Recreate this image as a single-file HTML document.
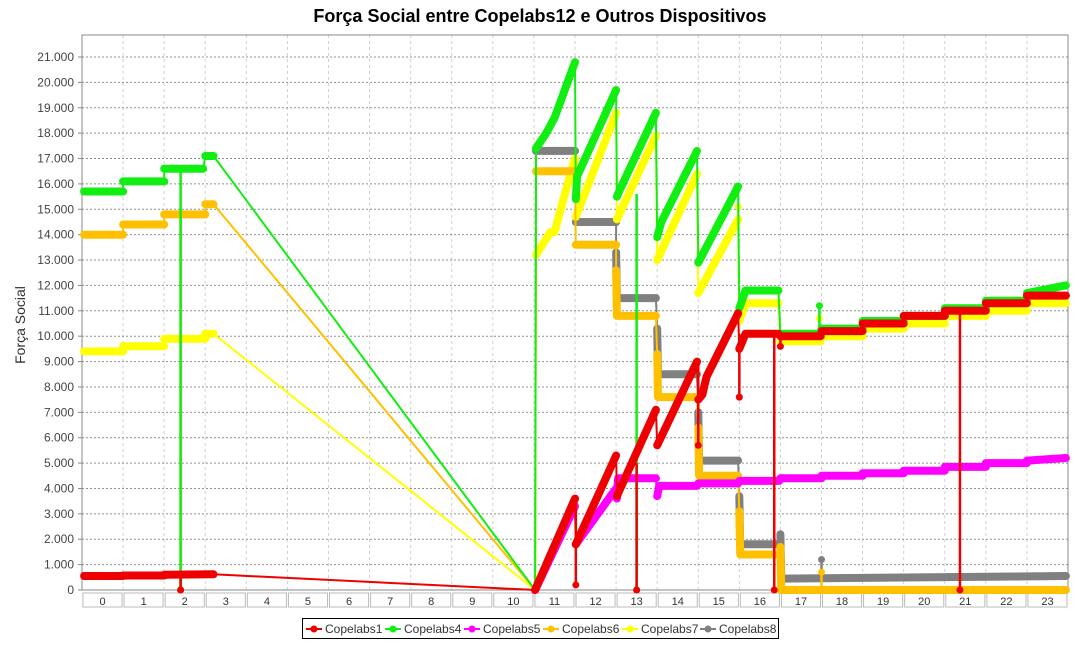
<!DOCTYPE html>
<html><head><meta charset="utf-8">
<style>
html,body{margin:0;padding:0;background:#fff;}
body{width:1080px;height:640px;overflow:hidden;font-family:"Liberation Sans",sans-serif;}
</style></head>
<body>
<svg id="chart" width="1080" height="640" xmlns="http://www.w3.org/2000/svg" style="font-family:'Liberation Sans',sans-serif">
<text x="540" y="22" text-anchor="middle" font-size="18" font-weight="bold" fill="#000">Força Social entre Copelabs12 e Outros Dispositivos</text>
<g id="grid"></g>
<g id="axes"></g>
<g id="series"></g>
<g id="legend"></g>
</svg>
<script>
// ---- data ----
const hours = ["0","1","2","3","4","5","6","7","8","9","10","11","12","13","14","15","16","17","18","19","20","21","22","23"];
const yTicks = [0,1000,2000,3000,4000,5000,6000,7000,8000,9000,10000,11000,12000,13000,14000,15000,16000,17000,18000,19000,20000,21000];
const seriesNames = ["Copelabs1","Copelabs4","Copelabs5","Copelabs6","Copelabs7","Copelabs8"];
const seriesColors = ["#ee0000","#11ee11","#ff00ff","#ffc000","#ffff00","#808080"];
// runs: [hour, value(thousands)] ; spikes: [hour, from, to]
const c1Runs = [[[0.05,0.55],[1,0.55]],[[1,0.57],[2,0.57]],[[2,0.6],[3.2,0.62]],[[11.03,0],[12,3.6]],[[12.02,1.8],[13,5.3]],[[13.02,3.7],[13.97,7.1]],[[14,5.7],[14.97,9.0]],[[15,7.5],[15.1,7.7],[15.2,8.4],[15.97,10.9]],[[16,9.5],[16.15,10.1],[16.95,10.1]],[[17,10.0],[17.98,10.0]],[[18,10.2],[19,10.2]],[[19,10.5],[20,10.5]],[[20,10.8],[21,10.8]],[[21,11.0],[22,11.0]],[[22,11.3],[23,11.3]],[[23,11.6],[23.95,11.6]]];
const c1Spikes = [[2.4,0.6,0],[12.02,3.6,0.2],[13.5,5.0,0],[15.0,9.0,5.7],[16.0,10.1,7.6],[16.85,10.1,0],[17.0,10.0,9.6],[21.37,11.0,0]];
const c4Runs = [[[0.05,15.7],[1,15.7]],[[1,16.1],[2,16.1]],[[2,16.6],[2.95,16.6]],[[3,17.1],[3.2,17.1]],[[11.03,0]],[[11.05,17.4],[11.3,18.0],[11.5,18.6],[12,20.8]],[[12.02,15.4],[12.05,16.3],[13,19.7]],[[13.02,15.5],[13.1,15.8],[13.97,18.8]],[[14,13.9],[14.1,14.5],[14.97,17.3]],[[15,12.9],[15.97,15.9]],[[16,11.1],[16.15,11.8],[16.95,11.8]],[[17,10.1],[17.98,10.1]],[[18,10.3],[19,10.3]],[[19,10.6],[20,10.6]],[[20,10.8],[21,10.8]],[[21,11.1],[22,11.1]],[[22,11.4],[23,11.4]],[[23,11.7],[23.95,12.0]]];
const c4Spikes = [[2.4,16.6,0],[13.5,15.6,0],[17.95,10.1,11.2]];
const c5Runs = [[[11.03,0],[12,3.3]],[[12.02,1.8],[13,4.0]],[[13.02,3.6],[13.05,4.4],[13.97,4.4]],[[14,3.7],[14.05,4.1],[14.97,4.1]],[[15,4.2],[15.97,4.2]],[[16,4.3],[16.97,4.3]],[[17,4.4],[18,4.4]],[[18,4.5],[19,4.5]],[[19,4.6],[20,4.6]],[[20,4.7],[21,4.7]],[[21,4.85],[22,4.85]],[[22,5.0],[23,5.0]],[[23,5.1],[23.95,5.2]]];
const c5Spikes = [];
const c6Runs = [[[0.05,14.0],[1,14.0]],[[1,14.4],[2,14.4]],[[2,14.8],[3,14.8]],[[3,15.2],[3.2,15.2]],[[11.03,0]],[[11.05,16.5],[12,16.5]],[[12.02,13.6],[13,13.6]],[[13,12.6],[13.02,10.8],[13.97,10.8]],[[14,9.3],[14.02,7.6],[14.97,7.6]],[[15,6.4],[15.02,4.5],[15.97,4.5]],[[16,3.1],[16.02,1.4],[16.97,1.4]],[[17,1.7],[17.02,0.0],[23.95,0.0]]];
const c6Spikes = [[2.4,14.8,0],[18,0.0,0.7]];
const c7Runs = [[[0.05,9.4],[1,9.4]],[[1,9.6],[2,9.6]],[[2,9.9],[3,9.9]],[[3,10.1],[3.2,10.1]],[[11.03,0]],[[11.05,13.2],[11.4,14.1],[11.5,14.1],[11.7,15.3],[12,17.0]],[[12.02,14.7],[13,18.8]],[[13.02,14.6],[13.97,17.9]],[[14,13.0],[14.97,16.4]],[[15,11.7],[15.97,14.6]],[[16,10.6],[16.15,11.3],[16.95,11.3]],[[17,9.8],[17.98,9.8]],[[18,10.0],[19,10.0]],[[19,10.3],[20,10.3]],[[20,10.5],[21,10.5]],[[21,10.8],[22,10.8]],[[22,11.0],[23,11.0]],[[23,11.3],[23.95,11.3]]];
const c7Spikes = [[15.97,14.6,15.1],[17.95,9.8,10.7]];
const c8Runs = [[[11.05,17.3],[12,17.3]],[[12.02,14.5],[13,14.5]],[[13,13.3],[13.02,11.5],[13.97,11.5]],[[14,10.3],[14.02,8.5],[14.97,8.5]],[[15,7.0],[15.02,5.1],[15.97,5.1]],[[16,3.7],[16.02,1.8],[16.97,1.8]],[[17,2.2],[17.02,0.45],[23.95,0.55]]];
const c8Spikes = [[18,0.45,1.2]];

// ---- scales ----
const L=82,R=1068,T=35,B=590;
const bw=(R-L)/24;
const xs=h=>L+h*bw;
const ys=v=>B-v*(B-57)/21000;
const NS="http://www.w3.org/2000/svg";
function mk(tag,attrs,parent){const e=document.createElementNS(NS,tag);for(const k in attrs)e.setAttribute(k,attrs[k]);parent.appendChild(e);return e;}
const grid=document.getElementById('grid'),axes=document.getElementById('axes'),ser=document.getElementById('series'),leg=document.getElementById('legend');

const bg=mk('rect',{x:L,y:T,width:R-L,height:B-T,fill:'#fff'},grid);


for(let i=1;i<24;i++){
  const l=mk('line',{x1:xs(i),x2:xs(i),y1:T,y2:B,stroke:'#d0d0d0','stroke-dasharray':'3,3','stroke-width':1},grid);
  
  
}
yTicks.forEach(v=>{
  if(v>0){const l=mk('line',{x1:L,x2:R,y1:ys(v),y2:ys(v),stroke:'#909090','stroke-dasharray':'2,2','stroke-width':1},grid);
  
  }
  const t=mk('text',{x:74,y:ys(v)+4,'text-anchor':'end','font-size':12,fill:'#444'},axes);
  t.textContent=v===0?'0':(v/1000).toFixed(3);
  
  
  const tk=mk('line',{x1:L-4,x2:L,y1:ys(v),y2:ys(v),stroke:'#888'},axes);
  
  
});
const ya=mk('line',{x1:L,x2:L,y1:T,y2:B,stroke:'#888','stroke-width':1},axes);


const xa=mk('line',{x1:L,x2:R,y1:B,y2:B,stroke:'#888'},axes);


const rb=mk('rect',{x:L,y:T,width:R-L,height:B-T,fill:'none',stroke:'#888'},axes);


const yt=mk('text',{x:25,y:325,'text-anchor':'middle','font-size':14,fill:'#333',transform:'rotate(-90 25 325)'},axes);
yt.textContent='Força Social';


hours.forEach((h,i)=>{
  const r=mk('rect',{x:xs(i)+1,y:593,width:bw-2,height:14,fill:'#fff',stroke:'#bbb'},axes);
  
  
  const t=mk('text',{x:xs(i)+bw/2,y:605,'text-anchor':'middle','font-size':11,fill:'#333'},axes);
  t.textContent=h;
  
  
});

const allRuns=[c1Runs,c4Runs,c5Runs,c6Runs,c7Runs,c8Runs];
const allSpikes=[c1Spikes,c4Spikes,c5Spikes,c6Spikes,c7Spikes,c8Spikes];
const order=[5,4,3,2,1,0];
const pt=p=>xs(p[0]).toFixed(1)+','+ys(p[1]*1000).toFixed(1);
order.forEach(si=>{
  const col=seriesColors[si],runs=allRuns[si];
  const g=mk('g',{},ser);
  
  
  const all=[];runs.forEach(r=>r.forEach(p=>all.push(p)));
  const th=mk('polyline',{points:all.map(pt).join(' '),fill:'none',stroke:col,'stroke-width':2},g);
  
  
  allSpikes[si].forEach(s=>{
    const l=mk('line',{x1:xs(s[0]),x2:xs(s[0]),y1:ys(s[1]*1000),y2:ys(s[2]*1000),stroke:col,'stroke-width':2.5},g);
    
    
    const c=mk('circle',{cx:xs(s[0]),cy:ys(s[2]*1000),r:3.5,fill:col},g);
    
    
  });
  runs.forEach(r=>{
    if(r.length<2)return;
    const p=mk('polyline',{points:r.map(pt).join(' '),fill:'none',stroke:col,'stroke-width':8,'stroke-linecap':'round','stroke-linejoin':'round'},g);
    
    
  });
});

// legend
const lb=mk('rect',{x:302.5,y:618.5,width:476,height:20,fill:'#fff',stroke:'#000'},leg);


const lx=[306,385,464,543,622,700];
seriesNames.forEach((n,i)=>{
  const g=mk('g',{},leg);
  
  
  mk('line',{x1:lx[i],x2:lx[i]+16,y1:629,y2:629,stroke:seriesColors[i],'stroke-width':2},g);
  mk('circle',{cx:lx[i]+8,cy:629,r:3.5,fill:seriesColors[i]},g);
  const t=mk('text',{x:lx[i]+19,y:633,'font-size':12,fill:'#333'},g);
  t.textContent=n;
});
</script>
</body></html>
